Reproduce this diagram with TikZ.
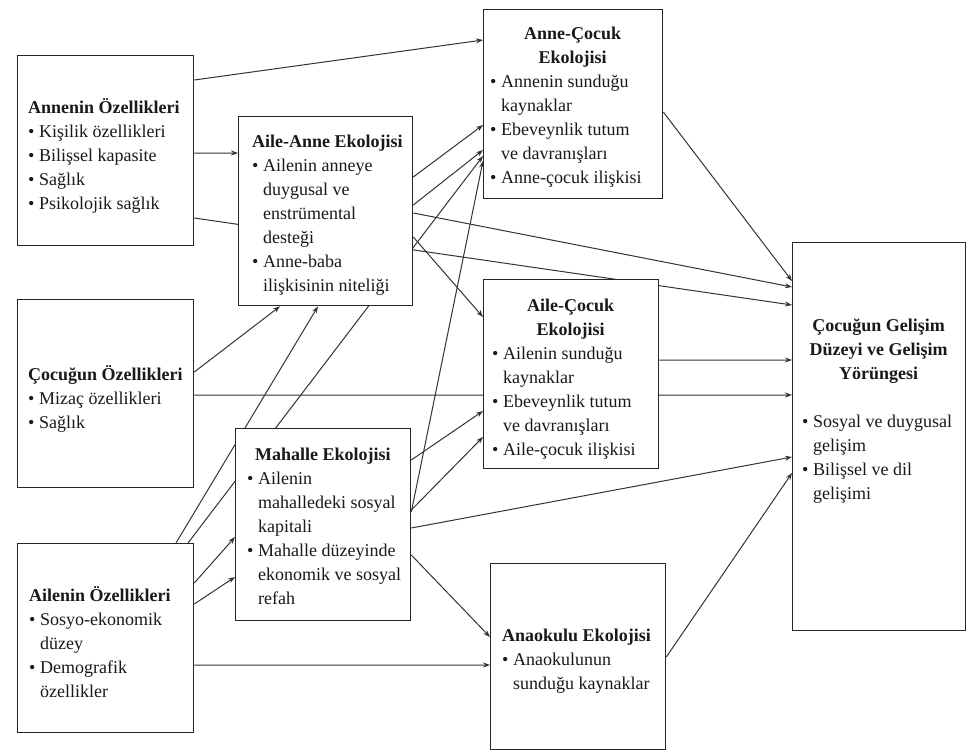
\documentclass[tikz,border=0pt]{standalone}
\usepackage{fontspec}
\setmainfont{LiberationSerif}[Extension=.ttf, UprightFont=*-Regular, BoldFont=*-Bold, ItalicFont=*-Italic, BoldItalicFont=*-BoldItalic]
\usetikzlibrary{arrows.meta,backgrounds}
\newcommand\bi{\makebox[11bp][l]{•}}
\newcommand\ci{\hspace*{11bp}}
\begin{document}
\begin{tikzpicture}[x=1bp,y=-1bp,
  box/.style={draw=black!85, line width=1.3bp, fill=white, inner sep=0pt, anchor=north west},
  txt/.style={align=left, inner sep=0pt, anchor=west, font=\rmfamily\fontsize{18bp}{24bp}\selectfont, text=black!90},
  conn/.style={draw=black!80, line width=1bp, -{Stealth[length=7bp,width=5bp]}}]
\useasboundingbox (0,0) rectangle (967,751);

% boxes
\node[box, minimum width=176bp, minimum height=190bp] (annO) at (17,55) {};
\node[box, minimum width=176bp, minimum height=188bp] (cocO) at (17,299) {};
\node[box, minimum width=176bp, minimum height=189bp] (aileO) at (17,543) {};
\node[box, minimum width=174bp, minimum height=189bp] (aileAnne) at (238,116) {};
\node[box, minimum width=179bp, minimum height=189bp] (anneCoc) at (483,9) {};
\node[box, minimum width=175bp, minimum height=189bp] (aileCoc) at (483,279) {};
\node[box, minimum width=175bp, minimum height=192bp] (mahalle) at (235,428) {};
\node[box, minimum width=175bp, minimum height=186bp] (anaokulu) at (490,563) {};
\node[box, minimum width=173bp, minimum height=388bp] (gelisim) at (792,242) {};

% texts
\node[txt] (annOt) at ([xshift=11bp,yshift=-5bp]annO.west)
  {\textbf{Annenin Özellikleri}\\ \bi Kişilik özellikleri\\ \bi Bilişsel kapasite\\ \bi Sağlık\\ \bi Psikolojik sağlık};
\node[txt] (cocOt) at ([xshift=11bp,yshift=-5bp]cocO.west)
  {\textbf{Çocuğun Özellikleri}\\ \bi Mizaç özellikleri\\ \bi Sağlık};
\node[txt] (aileOt) at ([xshift=12bp,yshift=-3.5bp]aileO.west)
  {\textbf{Ailenin Özellikleri}\\ \bi Sosyo-ekonomik\\ \ci düzey\\ \bi Demografik\\ \ci özellikler};
\node[txt] (aileAnnet) at ([xshift=14bp,yshift=-4.5bp]aileAnne.west)
  {\textbf{Aile-Anne Ekolojisi}\\ \bi Ailenin anneye\\ \ci duygusal ve\\ \ci enstrümental\\ \ci desteği\\ \bi Anne-baba\\ \ci ilişkisinin niteliği};
\node[txt] (anneCoct) at ([xshift=7bp,yshift=-3.5bp]anneCoc.west)
  {\makebox[165bp][c]{\textbf{Anne-Çocuk}}\\ \makebox[165bp][c]{\textbf{Ekolojisi}}\\ \bi Annenin sunduğu\\ \ci kaynaklar\\ \bi Ebeveynlik tutum\\ \ci ve davranışları\\ \bi Anne-çocuk ilişkisi};
\node[txt] (aileCoct) at ([xshift=9bp,yshift=-5bp]aileCoc.west)
  {\makebox[157bp][c]{\textbf{Aile-Çocuk}}\\ \makebox[157bp][c]{\textbf{Ekolojisi}}\\ \bi Ailenin sunduğu\\ \ci kaynaklar\\ \bi Ebeveynlik tutum\\ \ci ve davranışları\\ \bi Aile-çocuk ilişkisi};
\node[txt] (mahallet) at ([xshift=12bp,yshift=-2bp]mahalle.west)
  {\hspace*{8bp}\textbf{Mahalle Ekolojisi}\\ \bi Ailenin\\ \ci mahalledeki sosyal\\ \ci kapitali\\ \bi Mahalle düzeyinde\\ \ci ekonomik ve sosyal\\ \ci refah};
\node[txt] (anaokulut) at ([xshift=12bp,yshift=-5bp]anaokulu.west)
  {\textbf{Anaokulu Ekolojisi}\\ \bi Anaokulunun\\ \ci sunduğu kaynaklar};
\node[txt] (gelisimt) at ([xshift=10bp,yshift=26bp]gelisim.west)
  {\makebox[153bp][c]{\textbf{Çocuğun Gelişim}}\\ \makebox[153bp][c]{\textbf{Düzeyi ve Gelişim}}\\ \makebox[153bp][c]{\textbf{Yörüngesi}}\\[24bp] \bi Sosyal ve duygusal\\ \ci gelişim\\ \bi Bilişsel ve dil\\ \ci gelişimi};

\begin{pgfonlayer}{background}
\fill[white] (0,0) rectangle (967,751);
\draw[conn] ([yshift=-25bp]annO.north east) -- ([yshift=-31bp]anneCoc.north west);
\draw[conn] ([yshift=-98bp]annO.north east) -- ([yshift=-37bp]aileAnne.north west);
\draw[conn] ([yshift=-163bp]annO.north east) -- ([yshift=-63bp]gelisim.north west);
\draw[conn] ([yshift=-61bp]aileAnne.north east) -- ([yshift=-116bp]anneCoc.north west);
\draw[conn] ([yshift=-89bp]aileAnne.north east) -- ([yshift=-141bp]anneCoc.north west);
\draw[conn] ([yshift=-97bp]aileAnne.north east) -- ([yshift=-45bp]gelisim.north west);
\draw[conn] ([yshift=-121bp]aileAnne.north east) -- ([yshift=-38bp]aileCoc.north west);
\draw[conn] ([xshift=171bp]aileO.north west) -- ([yshift=-147bp]anneCoc.north west);
\draw[conn] ([xshift=159bp]aileO.north west) -- ([xshift=80bp]aileAnne.south west);
\draw[conn] ([yshift=-73bp]cocO.north east) -- ([xshift=42bp]aileAnne.south west);
\draw[conn] ([yshift=-96bp]cocO.north east) -- ([yshift=-153bp]gelisim.north west);
\draw[conn] ([yshift=-40bp]aileO.north east) -- ([yshift=-109bp]mahalle.north west);
\draw[conn] ([yshift=-61bp]aileO.north east) -- ([yshift=-149bp]mahalle.north west);
\draw[conn] ([yshift=-122bp]aileO.north east) -- ([yshift=-102bp]anaokulu.north west);
\draw[conn] ([yshift=-32bp]mahalle.north east) -- ([yshift=-132bp]aileCoc.north west);
\draw[conn] ([yshift=-84bp]mahalle.north east) -- ([yshift=-152bp]anneCoc.north west);
\draw[conn] ([yshift=-82bp]mahalle.north east) -- ([yshift=-158bp]aileCoc.north west);
\draw[conn] ([yshift=-100bp]mahalle.north east) -- ([yshift=-215bp]gelisim.north west);
\draw[conn] ([yshift=-127bp]mahalle.north east) -- ([yshift=-74bp]anaokulu.north west);
\draw[conn] ([yshift=-103bp]anneCoc.north east) -- ([yshift=-39bp]gelisim.north west);
\draw[conn] ([yshift=-81bp]aileCoc.north east) -- ([yshift=-118bp]gelisim.north west);
\draw[conn] ([yshift=-94bp]anaokulu.north east) -- ([yshift=-231bp]gelisim.north west);
\end{pgfonlayer}
\end{tikzpicture}
\end{document}
